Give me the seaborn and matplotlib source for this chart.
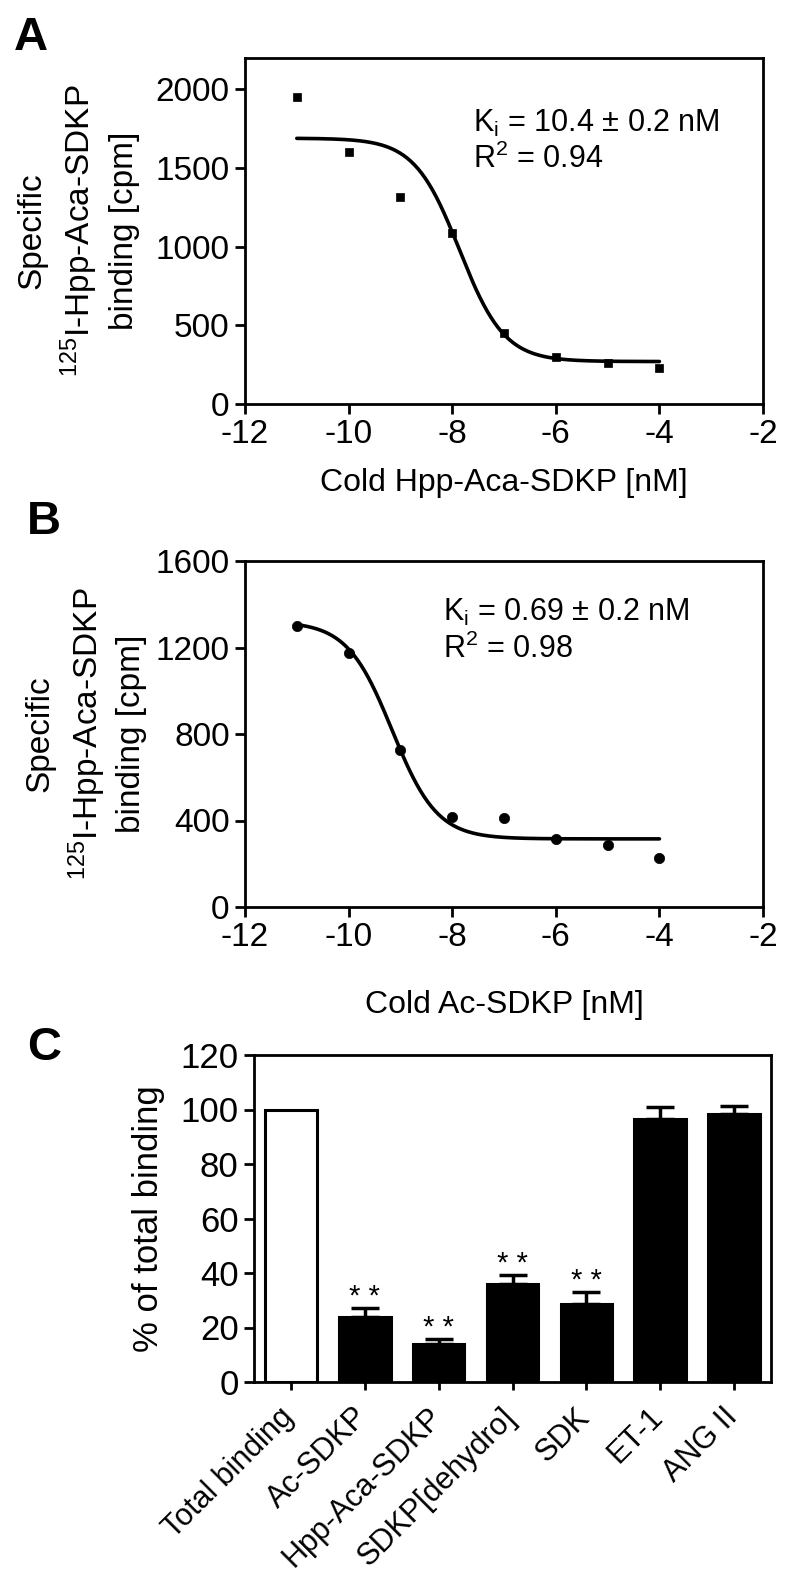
import numpy as np
import pandas as pd
import matplotlib
matplotlib.use("Agg")
import matplotlib.pyplot as plt
import matplotlib.transforms as mtransforms
import seaborn as sns

# Panel A: competition with cold Hpp-Aca-SDKP (log M)
a_log_conc = [-11, -10, -9, -8, -7, -6, -5, -4]
a_binding = [1950, 1600, 1315, 1090, 450, 298, 260, 228]
# one-site fit
a_top, a_bottom, a_logic50 = 1690, 270, -7.86

# Panel B: competition with cold Ac-SDKP
b_log_conc = [-11, -10, -9, -8, -7, -6, -5, -4]
b_binding = [1299, 1175, 726, 416, 412, 314, 287, 227]
b_top, b_bottom, b_logic50 = 1320, 315, -9.16

# Panel C: % of total binding
c_labels = ["Total binding", "Ac-SDKP", "Hpp-Aca-SDKP", "SDKP[dehydro]", "SDK", "ET-1", "ANG II"]
c_mean = [100, 24, 14, 36, 28.5, 96.5, 98.5]
c_sem = [0, 3.3, 1.8, 3.4, 4.5, 4.6, 2.8]
c_stars = ["", "**", "**", "**", "**", "", ""]

sns.set_style("ticks")
plt.rcParams["font.family"] = ["Liberation Sans", "DejaVu Sans"]
plt.rcParams["mathtext.default"] = "regular"
plt.rcParams["axes.unicode_minus"] = False
plt.rcParams["text.color"] = "black"
plt.rcParams["axes.labelcolor"] = "black"

W, H = 792, 1586
fig = plt.figure(figsize=(W / 100, H / 100), dpi=100)


def box(left, top, right, bottom):
    return [left / W, 1 - bottom / H, (right - left) / W, (bottom - top) / H]


def one_site(logx, top, bottom, logic50):
    x = np.asarray(logx, dtype=float)
    return bottom + (top - bottom) / (1 + 10 ** (x - logic50))


def style_axes(ax, size=24):
    for sp in ax.spines.values():
        sp.set_visible(True)
        sp.set_linewidth(2)
        sp.set_color("black")
    ax.tick_params(direction="out", length=7, width=2, pad=4,
                   labelsize=size, colors="black")


YLAB = "Specific\n$^{125}$I-Hpp-Aca-SDKP\nbinding [cpm]"


def binding_panel(ax, xs, ys, top, bottom, logic50, marker, msize, ylim, yticks,
                  xlabel, ki_text, r2_text, tx, ty1, ty2, ylab_x, xlab_y):
    xfit = np.linspace(min(xs), max(xs), 300)
    sns.lineplot(x=xfit, y=one_site(xfit, top, bottom, logic50), color="black",
                 linewidth=2.6, ax=ax)
    sns.scatterplot(x=xs, y=ys, marker=marker, s=msize, color="black",
                    edgecolor="black", linewidth=0.5, ax=ax, zorder=3)
    ax.set_xlim(-12, -2)
    ax.set_xticks(range(-12, -1, 2))
    ax.set_ylim(*ylim)
    ax.set_yticks(yticks)
    style_axes(ax)
    ax.set_xlabel(xlabel, fontsize=23, va="center")
    ax.xaxis.set_label_coords(0.5, xlab_y)
    ax.set_ylabel(YLAB, fontsize=24, va="center", linespacing=1.35)
    ax.yaxis.set_label_coords(ylab_x, 0.5)
    ax.text(tx, ty1, ki_text, fontsize=22, va="center", ha="left")
    ax.text(tx, ty2, r2_text, fontsize=22, va="center", ha="left")


ax_a = fig.add_axes(box(245, 58, 763, 404))
binding_panel(ax_a, a_log_conc, a_binding, a_top, a_bottom, a_logic50, "s", 28,
              (0, 2200), [0, 500, 1000, 1500, 2000], "Cold Hpp-Aca-SDKP [nM]",
              "K$_{i}$ = 10.4 ± 0.2 nM", "R$^{2}$ = 0.94", -7.6, 1787, 1558,
              -0.322, -0.228)

ax_b = fig.add_axes(box(245, 561, 763, 907))
binding_panel(ax_b, b_log_conc, b_binding, b_top, b_bottom, b_logic50, "o", 55,
              (0, 1600), [0, 400, 800, 1200, 1600], "Cold Ac-SDKP [nM]",
              "K$_{i}$ = 0.69 ± 0.2 nM", "R$^{2}$ = 0.98", -8.18, 1364, 1193,
              -0.308, -0.284)

# Panel C bars
ax_c = fig.add_axes(box(254, 1055, 771, 1382))
df_c = pd.DataFrame({"compound": c_labels, "pct": c_mean})
colors = {lab: ("white" if i == 0 else "black") for i, lab in enumerate(c_labels)}
sns.barplot(data=df_c, x="compound", y="pct", hue="compound", palette=colors,
            width=0.7, edgecolor="black", linewidth=2.2, errorbar=None,
            legend=False, saturation=1, ax=ax_c)
idx = [i for i, e in enumerate(c_sem) if e > 0]
ax_c.errorbar(idx, [c_mean[i] for i in idx],
              yerr=[np.zeros(len(idx)), [c_sem[i] for i in idx]],
              fmt="none", ecolor="black", elinewidth=2.5, capsize=10, capthick=2.5)
for i, s in enumerate(c_stars):
    if s:
        ax_c.text(i, c_mean[i] + c_sem[i] + 1.0, "* *", ha="center", va="baseline",
                  fontsize=21)
ax_c.set_xlim(-0.5, len(c_labels) - 0.5)
ax_c.set_ylim(0, 120)
ax_c.set_yticks(range(0, 121, 20))
style_axes(ax_c, size=25)
ax_c.tick_params(axis="x", length=6, labelsize=22)
ax_c.set_xticks(range(len(c_labels)))
ax_c.set_xticklabels(c_labels, rotation=45, ha="right", rotation_mode="anchor")
shift = mtransforms.ScaledTranslation(-12 / 100, -6 / 100, fig.dpi_scale_trans)
for lab in ax_c.get_xticklabels():
    lab.set_transform(lab.get_transform() + shift)
ax_c.set_xlabel("")
ax_c.set_ylabel("% of total binding", fontsize=25, va="center")
ax_c.yaxis.set_label_coords(-0.205, 0.5)

for letter, (x, y) in {"A": (14, 38), "B": (27, 522), "C": (27, 1048)}.items():
    fig.text(x / W, 1 - y / H, letter, fontsize=34, fontweight="bold",
             ha="left", va="center")

fig.savefig("out.png", dpi=100)
